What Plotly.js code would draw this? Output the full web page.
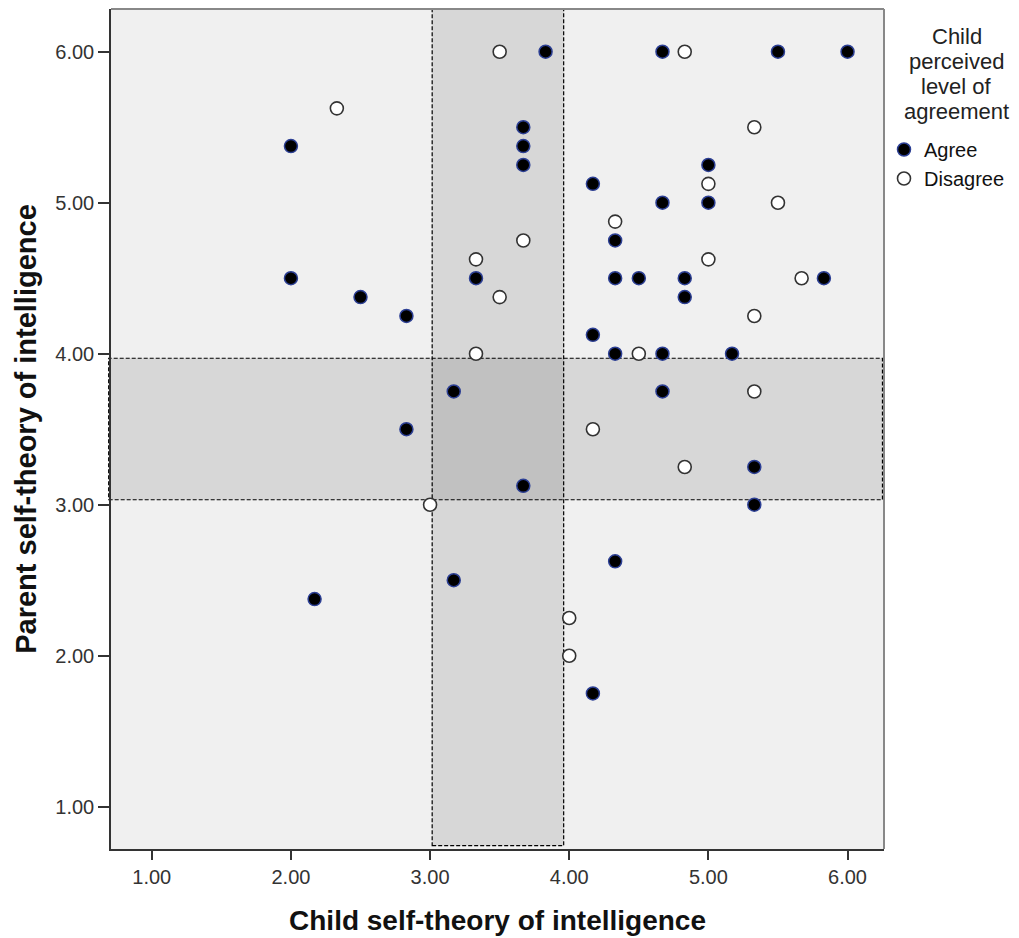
<!DOCTYPE html>
<html>
<head>
<meta charset="utf-8">
<script src="https://cdn.plot.ly/plotly-3.0.1.min.js"></script>
<style>html,body{margin:0;padding:0;background:#fff;}#chart{width:1019px;height:938px;}</style>
</head>
<body>
<div id="chart"></div>
<script>
// Child self-theory (x) and parent self-theory (y), by child perceived agreement
var agreeX = [2.00, 2.00, 2.17, 2.50, 2.83, 2.83, 3.17, 3.17, 3.33, 3.67, 3.67, 3.67, 3.67, 3.83,
              4.17, 4.17, 4.17, 4.33, 4.33, 4.33, 4.33, 4.50, 4.67, 4.67, 4.67, 4.67, 4.83, 4.83,
              5.00, 5.00, 5.17, 5.33, 5.33, 5.50, 5.83, 6.00];
var agreeY = [5.375, 4.50, 2.375, 4.375, 4.25, 3.50, 3.75, 2.50, 4.50, 5.50, 5.375, 5.25, 3.125, 6.00,
              5.125, 4.125, 1.75, 4.75, 4.50, 4.00, 2.625, 4.50, 6.00, 5.00, 4.00, 3.75, 4.50, 4.375,
              5.25, 5.00, 4.00, 3.25, 3.00, 6.00, 4.50, 6.00];
var disagreeX = [2.33, 3.00, 3.33, 3.33, 3.50, 3.50, 3.67, 4.00, 4.00, 4.17, 4.33, 4.50, 4.83, 4.83,
                 5.00, 5.00, 5.33, 5.33, 5.33, 5.50, 5.67];
var disagreeY = [5.625, 3.00, 4.625, 4.00, 6.00, 4.375, 4.75, 2.25, 2.00, 3.50, 4.875, 4.00, 6.00, 3.25,
                 5.125, 4.625, 5.50, 4.25, 3.75, 5.00, 4.50];
var seriesNames = ["Agree", "Disagree"];
var legendTitleLines = ["Child", "perceived", "level of", "agreement"];
var tickVals = [1, 2, 3, 4, 5, 6];
var tickText = ["1.00", "2.00", "3.00", "4.00", "5.00", "6.00"];
// Shaded reference bands (child x band, parent y band)
var childBand = [3.015, 3.96];
var parentBand = [3.033, 3.97];

var FONT = "Liberation Sans, Arial, sans-serif";

var traces = [
  {
    type: "scatter", mode: "markers", name: seriesNames[0],
    x: agreeX, y: agreeY,
    marker: {symbol: "circle", size: 13, color: "#000000", line: {color: "#2c3f94", width: 1.5}},
    hoverinfo: "x+y"
  },
  {
    type: "scatter", mode: "markers", name: seriesNames[1],
    x: disagreeX, y: disagreeY,
    marker: {symbol: "circle", size: 13, color: "#ffffff", line: {color: "#333333", width: 1.6}},
    hoverinfo: "x+y"
  }
];

var dashLine = {color: "#000000", width: 1.2, dash: "4px,2px"};

// legend title lines as centered annotations
var titleY = [36, 61, 86, 111];
var annotations = legendTitleLines.map(function (t, i) {
  return {
    text: t, xref: "paper", yref: "paper",
    x: (957 - 111) / 773, xanchor: "center",
    y: 1 - (titleY[i] - 9) / 840, yanchor: "middle",
    showarrow: false,
    font: {family: FONT, size: 22, color: "#222222"}
  };
});

var layout = {
  width: 1019, height: 938,
  margin: {l: 111, r: 135, t: 9, b: 89, pad: 0},
  paper_bgcolor: "#ffffff",
  plot_bgcolor: "#f0f0f0",
  font: {family: FONT, color: "#222222"},
  showlegend: true,
  legend: {
    x: 1.0, xanchor: "left", xref: "paper",
    y: 1 - (130 - 9) / 840, yanchor: "top",
    bgcolor: "rgba(0,0,0,0)",
    font: {family: FONT, size: 20, color: "#111111"},
    itemsizing: "trace",
    tracegroupgap: 0
  },
  annotations: annotations,
  xaxis: {
    range: [0.707, 6.262],
    tickmode: "array", tickvals: tickVals, ticktext: tickText,
    ticks: "outside", ticklen: 9, tickwidth: 1.5, tickcolor: "#333333",
    tickfont: {family: FONT, size: 20, color: "#333333"},
    showgrid: false, zeroline: false,
    showline: true, linecolor: "#333333", linewidth: 1.5, mirror: false,
    title: {text: "Child self-theory of intelligence", standoff: 24,
            font: {family: FONT, size: 28, color: "#111111", weight: "bold"}},
    automargin: false
  },
  yaxis: {
    range: [0.72, 6.283],
    tickmode: "array", tickvals: tickVals, ticktext: tickText,
    ticks: "outside", ticklen: 11, tickwidth: 1.5, tickcolor: "#333333",
    tickfont: {family: FONT, size: 20, color: "#333333"},
    showgrid: false, zeroline: false,
    showline: true, linecolor: "#333333", linewidth: 1.5, mirror: false,
    title: {text: "Parent self-theory of intelligence", standoff: 10,
            font: {family: FONT, size: 29, color: "#111111", weight: "bold"}},
    automargin: false
  },
  shapes: [
    {type: "rect", layer: "below", xref: "x", yref: "y",
     x0: childBand[0], x1: childBand[1], y0: 0.742, y1: 6.28,
     fillcolor: "rgba(0,0,0,0.1)", line: dashLine},
    {type: "rect", layer: "below", xref: "paper", yref: "y",
     x0: -0.003, x1: 0.998, y0: parentBand[0], y1: parentBand[1],
     fillcolor: "rgba(0,0,0,0.1)", line: dashLine},
    {type: "line", layer: "above", xref: "paper", yref: "paper",
     x0: 0, x1: 1, y0: 1, y1: 1, line: {color: "#888888", width: 2}},
    {type: "line", layer: "above", xref: "paper", yref: "paper",
     x0: 1, x1: 1, y0: 0, y1: 1, line: {color: "#888888", width: 2}}
  ]
};

Plotly.newPlot("chart", traces, layout, {displayModeBar: false});
</script>
</body>
</html>
